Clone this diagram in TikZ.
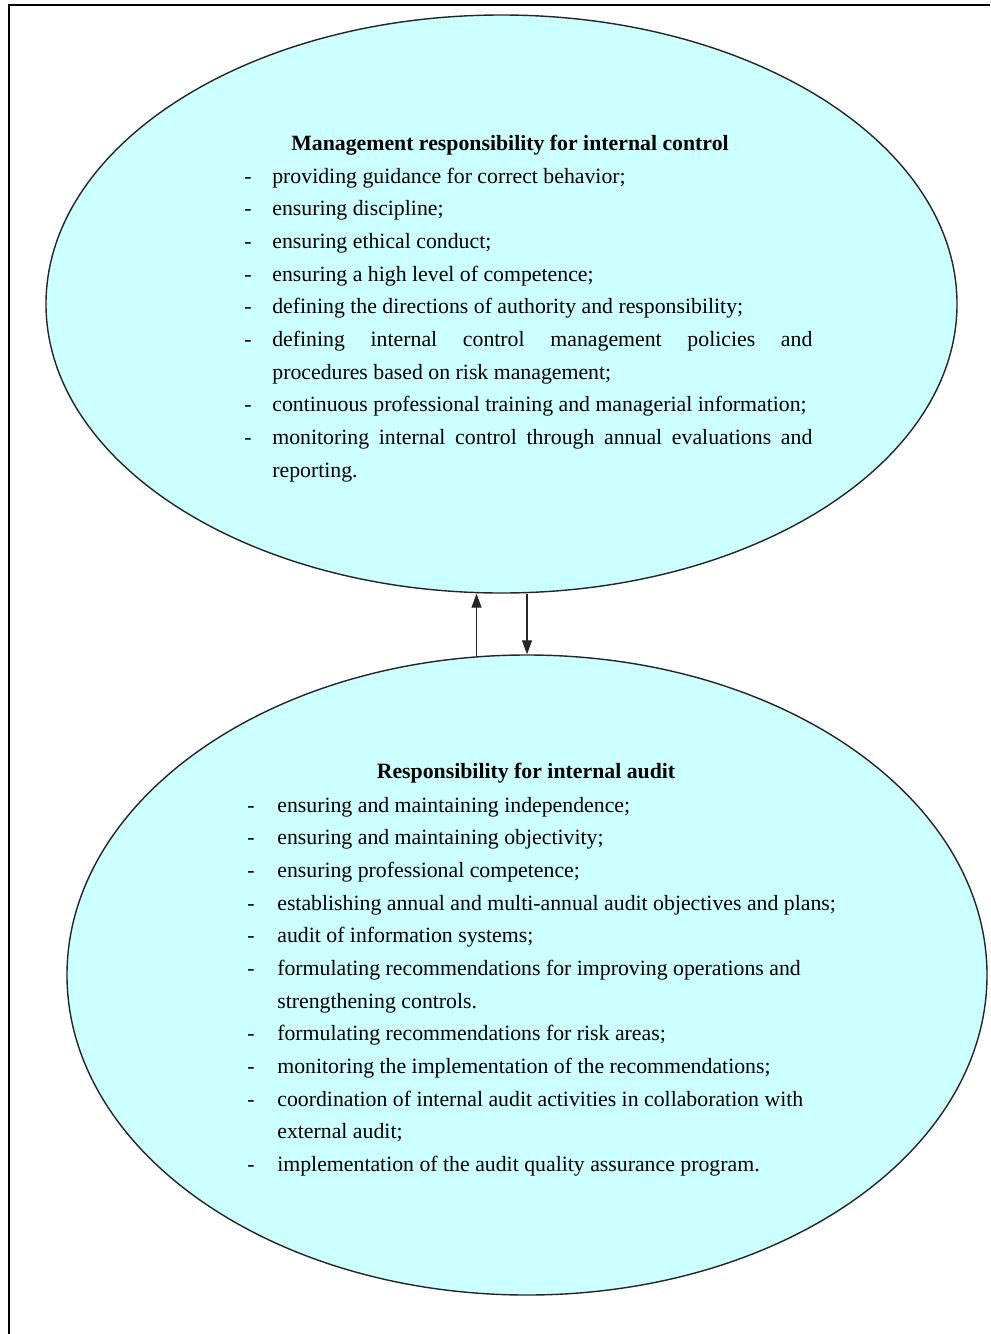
\documentclass[tikz,border=0pt]{standalone}
\usepackage{fontspec}
\setmainfont{Liberation Serif}
\usetikzlibrary{shapes.geometric,arrows.meta}
\definecolor{lightcyan}{RGB}{204,255,255}

\newlength\dashsep
\newcommand{\itm}[1]{\hangindent=\dashsep\hangafter=1\noindent\makebox[\dashsep][l]{-}#1\par}

\begin{document}
\begin{tikzpicture}[x=0.2mm, y=-0.2mm, >={Triangle[length=2.8mm,width=2mm]}]

            \tikzset{
                every oval/.style={ellipse, draw=black!85, line width=0.8pt, fill=lightcyan, inner sep=0pt},
                heading/.style={anchor=base, font=\fontsize{12.4pt}{18.6pt}\selectfont\bfseries},
                duties/.style={anchor=base west, inner sep=0pt, font=\fontsize{12.4pt}{18.6pt}\selectfont},
                link/.style={draw=black!85, line width=0.6pt, ->}
            }

            \useasboundingbox (0,0) rectangle (990,1334);

            % frame
            \draw [line width=1pt] (9,1334) -- (9,5) -- (990,5);

            % draw ovals
            \node [every oval, minimum width=18.22cm, minimum height=11.56cm] (mgmt) at (501.5,304) {};
            \node [every oval, minimum width=18.4cm, minimum height=12.8cm] (audit) at (527,975) {};

            % management
            \node [heading] (mgmt-title) at (510,150) {Management responsibility for internal control};
            \node [duties, text width=11.36cm, align=justify] (mgmt-list) at (244,183) {%
                \setlength\dashsep{0.56cm}\hyphenpenalty=10000
                \itm{providing guidance for correct behavior;}
                \itm{ensuring discipline;}
                \itm{ensuring ethical conduct;}
                \itm{ensuring a high level of competence;}
                \itm{defining the directions of authority and responsibility;}
                \itm{defining internal control management policies and\linebreak procedures based on risk management;}
                \itm{continuous professional training and managerial information;}
                \itm{monitoring internal control through annual evaluations and\linebreak reporting.}};

            % internal audit
            \node [heading] (audit-title) at (526,778) {Responsibility for internal audit};
            \node [duties, text width=12.4cm, align=flush left] (audit-list) at (247,812) {%
                \setlength\dashsep{0.6cm}\hyphenpenalty=10000
                \itm{ensuring and maintaining independence;}
                \itm{ensuring and maintaining objectivity;}
                \itm{ensuring professional competence;}
                \itm{establishing annual and multi-annual audit objectives and plans;}
                \itm{audit of information systems;}
                \itm{formulating recommendations for improving operations and\newline strengthening controls.}
                \itm{formulating recommendations for risk areas;}
                \itm{monitoring the implementation of the recommendations;}
                \itm{coordination of internal audit activities in collaboration with\newline external audit;}
                \itm{implementation of the audit quality assurance program.}};

            % arrows between ovals
            \draw [link] (audit.99) -- (audit.99 |- mgmt.south);
            \draw [link] (mgmt.south -| audit.north) -- (audit.north);

\end{tikzpicture}
\end{document}
